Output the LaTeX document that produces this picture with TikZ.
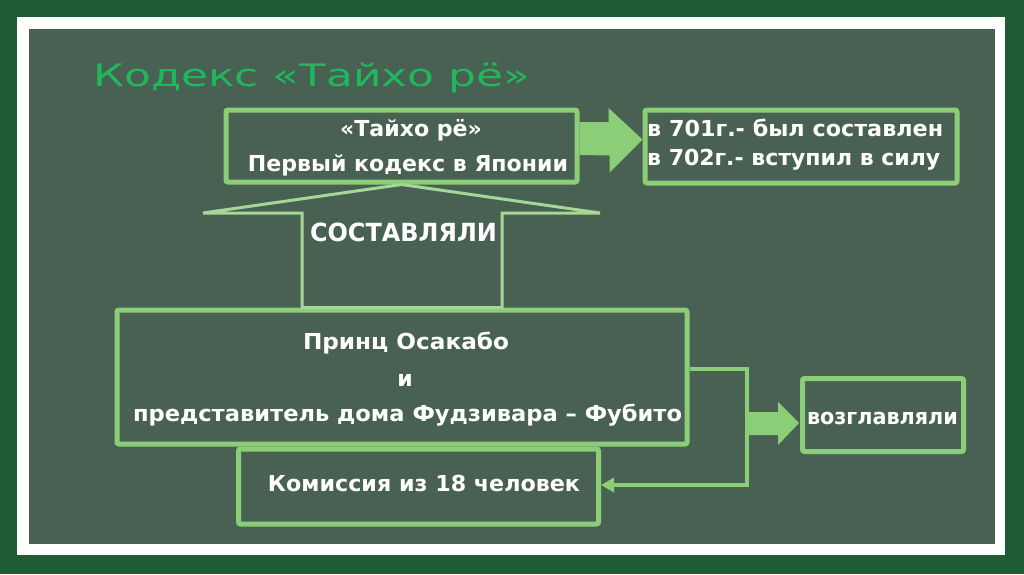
\documentclass[tikz,border=0pt]{standalone}
\usepackage{fontspec}
\usepackage{graphicx}
\setmainfont{DejaVu Sans}
\newfontfamily\titlefont{DejaVu Sans}
\usetikzlibrary{arrows.meta,calc}
\definecolor{grass}{RGB}{31,92,52}
\definecolor{panel}{RGB}{73,97,82}
\definecolor{lg}{RGB}{140,205,120}
\definecolor{lgl}{RGB}{165,215,150}
\definecolor{titlegreen}{RGB}{32,184,92}
\newcommand{\fitw}[2]{\resizebox{#1pt}{\height}{#2}}
\tikzset{
  box/.style={draw=lg, line width=5pt, rounded corners=2pt, inner sep=0pt},
  txt/.style={text=white, font=\fontsize{22}{24}\selectfont\bfseries, inner sep=0pt},
  conn/.style={draw=lg, line width=4pt},
  upline/.style={draw=lgl, line width=3pt, line join=miter},
}
\begin{document}
\begin{tikzpicture}[x=1pt,y=-1pt]
\useasboundingbox (0,0) rectangle (1024,574);
\fill[grass] (0,0) rectangle (1024,574);
\fill[white] (17,17) rectangle (1005,555);
\fill[panel] (29,29) rectangle (995,544);

\node[anchor=base west, inner sep=0pt, font=\titlefont\fontsize{31}{32}\selectfont, text=titlegreen] (title) at (93,86) {\fitw{437}{Кодекс «Тайхо рё»}};

% boxes
\node[box, minimum width=351pt, minimum height=72pt] (top) at (401.5,146) {};
\node[box, minimum width=312pt, minimum height=73pt] (right) at (801,146.5) {};
\node[box, minimum width=570pt, minimum height=134pt] (big) at (402,377) {};
\node[box, minimum width=360pt, minimum height=75pt] (comm) at (418.5,486.5) {};
\node[box, minimum width=161pt, minimum height=73pt] (boss) at (883,415) {};

% thick arrow top
\fill[lg] ($(top.east)+(0,-24)$) -- ++(29,0) -- ++(0,-14) -- ($(right.west)+(0,-7)$) -- ++(-33,33) -- ++(0,-17) -- ($(top.east)+(0,9)$) -- cycle;

% up arrow outline
\draw[upline] (top.south) -- (203,213) -- (302,213) -- (302,307.5) -- (502,307.5) -- (502,213) -- (600,213) -- cycle;

% connector to commission
\coordinate (bend) at (747,485);
\draw[conn, -{Triangle[length=13pt,width=14pt]}] ($(big.north east)+(0,61)$) -| (bend) -- (bend -| comm.east);

% thick arrow to boss
\fill[lg] (745,412) -- (778,412) -- (778,402) -- ($(boss.west)+(-1,8)$) -- (778,445) -- (778,435) -- (745,435) -- cycle;

% texts
\node[txt] (t1) at (411,130) {\fitw{142}{«Тайхо рё»}};
\node[txt] (t2) at (408,165) {\fitw{320}{Первый кодекс в Японии}};
\node[txt, anchor=west] (r1) at (647,128) {\fitw{296}{в 701г.- был составлен}};
\node[txt, anchor=west] (r2) at (647,160) {\fitw{293}{в 702г.- вступил в силу}};
\node[txt, font=\fontsize{25}{26}\selectfont\bfseries] (sost) at (403.5,232) {\fitw{187}{СОСТАВЛЯЛИ}};
\node[txt] (b1) at (406,343) {\fitw{206}{Принц Осакабо}};
\node[txt] (b2) at (405,380) {и};
\node[txt] (b3) at (407.5,415) {\fitw{549}{представитель дома Фудзивара – Фубито}};
\node[txt] (c) at (424,483) {\fitw{312}{Комиссия из 18 человек}};
\node[txt] (v) at (882.5,418) {\fitw{151}{возглавляли}};
\end{tikzpicture}
\end{document}
